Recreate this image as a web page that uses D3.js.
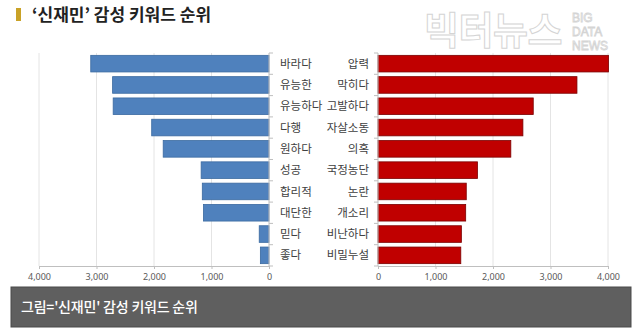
<!DOCTYPE html>
<html>
<head>
<meta charset="utf-8">
<script src="https://cdn.jsdelivr.net/npm/d3@7/dist/d3.min.js"></script>
<style>
  html, body { margin: 0; padding: 0; background: #fff; }
  svg { display: block; font-family: "Noto Sans CJK KR", "Noto Sans", sans-serif; }
</style>
</head>
<body>
<svg id="chart" width="640" height="335"></svg>
<script>
// Positive keywords (left panel) and their counts
const posKeywords = ["바라다", "유능한", "유능하다", "다행", "원하다", "성공", "합리적", "대단한", "믿다", "좋다"];
const posCounts   = [3100, 2720, 2710, 2040, 1840, 1180, 1160, 1140, 170, 150];

// Negative keywords (right panel) and their counts
const negKeywords = ["압력", "막히다", "고발하다", "자살소동", "의혹", "국정농단", "논란", "개소리", "비난하다", "비밀누설"];
const negCounts   = [4010, 3460, 2700, 2520, 2310, 1730, 1535, 1525, 1450, 1440];

const xTicks = [0, 1000, 2000, 3000, 4000];
const titleText = "‘신재민’ 감성 키워드 순위";
const captionText = "그림='신재민' 감성 키워드 순위";

const svg = d3.select("#chart");

// Title with gold marker
svg.append("rect").attr("x", 16).attr("y", 8).attr("width", 5).attr("height", 13).attr("fill", "#c9a227");
svg.append("text").attr("x", 32).attr("y", 21)
  .attr("font-size", 17).attr("font-weight", 700).attr("fill", "#222")
  .text(titleText);

// Outlined brand mark
const brand = svg.append("g").attr("fill", "#fff").attr("stroke", "#d4d4d4").attr("stroke-width", 1);
brand.append("text").attr("x", 424).attr("y", 44).attr("font-size", 38).attr("font-weight", 700)
  .attr("letter-spacing", -0.5).text("빅터뉴스");
["BIG", "DATA", "NEWS"].forEach((w, i) => {
  brand.append("text").attr("x", 572).attr("y", 22 + i * 14)
    .attr("font-size", 12).attr("font-family", "Liberation Sans, Arial, sans-serif")
    .attr("stroke-width", 0.8).text(w);
});

const plotTop = 53, plotBottom = 266;
const yPos = d3.scaleBand().domain(posKeywords).range([plotTop, plotBottom]).paddingInner(0.22).paddingOuter(0.11);
const yNeg = d3.scaleBand().domain(negKeywords).range([plotTop, plotBottom]).paddingInner(0.22).paddingOuter(0.11);
const xLeft = d3.scaleLinear().domain([0, 4000]).range([269, 39]);
const xRight = d3.scaleLinear().domain([0, 4000]).range([378, 608]);

function panel(x, y, keys, vals, fill, stroke, side) {
  const g = svg.append("g");
  // gridlines
  g.selectAll("line.grid").data(xTicks.filter(t => t > 0)).join("line")
    .attr("x1", d => x(d)).attr("x2", d => x(d))
    .attr("y1", plotTop).attr("y2", plotBottom)
    .attr("stroke", "#e4e4e4").attr("stroke-width", 1);

  // bars
  g.selectAll("rect.bar").data(keys).join("rect")
    .attr("x", (d, i) => Math.min(x(0), x(vals[i])))
    .attr("width", (d, i) => Math.abs(x(vals[i]) - x(0)))
    .attr("y", d => y(d))
    .attr("height", y.bandwidth())
    .attr("fill", fill).attr("stroke", stroke).attr("stroke-width", 0.8);

  // bottom axis
  const ax = g.append("g").attr("transform", `translate(0,${plotBottom})`)
    .call(d3.axisBottom(x).tickValues(xTicks).tickFormat(d3.format(",")).tickSize(3).tickSizeOuter(0));
  ax.select(".domain").attr("stroke", "#bfbfbf");
  ax.selectAll(".tick line").attr("stroke", "#bfbfbf");
  ax.selectAll(".tick text").attr("font-size", 9).attr("fill", "#595959").attr("dy", "0.9em")
    .attr("font-family", "Noto Sans, sans-serif");

  // category axis line with boundary ticks
  const x0 = x(0);
  g.append("line").attr("x1", x0).attr("x2", x0).attr("y1", plotTop).attr("y2", plotBottom)
    .attr("stroke", "#bfbfbf");
  const step = y.step();
  d3.range(keys.length + 1).forEach(i => {
    const yy = plotTop + i * step;
    g.append("line").attr("x1", x0).attr("x2", x0 + (side === "left" ? 4 : -4))
      .attr("y1", yy).attr("y2", yy).attr("stroke", "#bfbfbf");
  });

  // category labels
  g.selectAll("text.cat").data(keys).join("text")
    .attr("x", side === "left" ? x0 + 11 : x0 - 9)
    .attr("y", d => y(d) + y.bandwidth() / 2)
    .attr("dy", "0.36em")
    .attr("text-anchor", side === "left" ? "start" : "end")
    .attr("font-size", 11.5).attr("fill", "#404040")
    .text(d => d);
}

panel(xLeft, yPos, posKeywords, posCounts, "#4f81bd", "#3b6aa0", "left");
panel(xRight, yNeg, negKeywords, negCounts, "#c00000", "#7a0000", "right");

// Caption bar
svg.append("rect").attr("x", 11).attr("y", 287).attr("width", 620).attr("height", 40)
  .attr("fill", "#5f5f5f").attr("stroke", "#4a4a4a").attr("stroke-width", 1);
svg.append("text").attr("x", 21).attr("y", 312).attr("font-size", 14).attr("font-weight", 500)
  .attr("fill", "#fff").attr("letter-spacing", -0.2).text(captionText);
</script>
</body>
</html>
